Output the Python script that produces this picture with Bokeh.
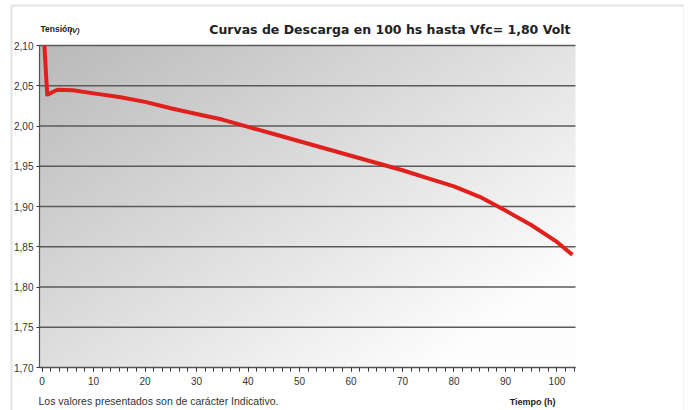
import numpy as np
from bokeh.plotting import figure
from bokeh.models import Label, FixedTicker, CustomJSTickFormatter, Range1d, BoxAnnotation
from bokeh.embed import file_html
from bokeh.resources import INLINE

# ---- data ----
hours = [0.45, 1.0, 3.0, 6.0, 10, 15, 20, 25, 30, 35, 40, 45, 50, 55,
         60, 65, 70, 75, 80, 85, 90, 95, 100, 103]
volts = [2.100, 2.039, 2.045, 2.0445, 2.0405, 2.036, 2.030, 2.022, 2.015,
         2.008, 1.999, 1.990, 1.981, 1.972, 1.963, 1.954, 1.945, 1.935,
         1.925, 1.912, 1.895, 1.877, 1.856, 1.840]
y_ticks = [1.70, 1.75, 1.80, 1.85, 1.90, 1.95, 2.00, 2.05, 2.10]
x_ticks = [0, 10, 20, 30, 40, 50, 60, 70, 80, 90, 100]
title_text = "Curvas de Descarga en 100 hs hasta Vfc= 1,80 Volt"
y_label = "Tensión"
y_unit = "(V)"
x_label = "Tiempo (h)"
footer_text = "Los valores presentados son de carácter Indicativo."

# ---- layout (pixels inside the canvas) ----
W, H = 684, 410
PL, PR, PT, PB = 39, 575, 45, 367          # grey plot area
X0, X1 = -0.5, 103.6                       # data at plot area edges
Y0, Y1 = 1.70, 2.10
sx = (PR - PL) / (X1 - X0)
sy = (PB - PT) / (Y1 - Y0)
x_lo, x_hi = X0 - PL / sx, X1 + (W - PR) / sx
y_lo, y_hi = Y0 - (H - PB) / sy, Y1 + PT / sy

p = figure(width=W, height=H,
           x_range=Range1d(x_lo, x_hi), y_range=Range1d(y_lo, y_hi),
           output_backend="svg", toolbar_location=None,
           min_border_left=0, min_border_right=0,
           min_border_top=0, min_border_bottom=0,
           background_fill_color="white", border_fill_color="white")
p.outline_line_color = None
p.xgrid.visible = False
p.ygrid.visible = False

# gradient background of plot area
nx, ny = 200, 120
img = np.empty((ny, nx), dtype=np.uint32)
view = img.view(dtype=np.uint8).reshape((ny, nx, 4))
u = np.linspace(0, 1, nx)[None, :]
v = np.linspace(0, 1, ny)[:, None]
t = np.clip(u * 0.62 + (1 - v) * 0.55, 0, 1)
g = (186 + (253 - 186) * t).astype(np.uint8)
view[:, :, 0] = g
view[:, :, 1] = g
view[:, :, 2] = g
view[:, :, 3] = 255
bg = p.image_rgba(image=[img], x=X0, y=Y0, dw=X1 - X0, dh=Y1 - Y0)
bg.level = "image"

# horizontal grid lines across the grey area
p.segment(x0=[X0] * len(y_ticks), y0=y_ticks, x1=[X1] * len(y_ticks), y1=y_ticks,
          line_color="#5a5a5a", line_width=1.5)

# curve
p.line(hours, volts, line_color="#e0201c", line_width=4, line_join="round")

# axes
p.yaxis.ticker = FixedTicker(ticks=y_ticks)
p.yaxis.formatter = CustomJSTickFormatter(code="return tick.toFixed(2).replace('.', ',');")
p.yaxis.fixed_location = X0
p.yaxis.bounds = (Y0, Y1)
p.xaxis.ticker = FixedTicker(ticks=x_ticks,
                             minor_ticks=[i * 10 / 6 for i in range(0, 63)])
p.xaxis.fixed_location = Y0
p.xaxis.bounds = (X0, X1)
for ax in (p.xaxis[0], p.yaxis[0]):
    ax.axis_line_color = "#555555"
    ax.axis_line_width = 1.2
    ax.major_tick_line_color = "#333333"
    ax.minor_tick_line_color = "#333333"
    ax.major_label_text_font = "Liberation Sans"
    ax.major_label_text_font_size = "10px"
    ax.major_label_text_color = "#333333"
    ax.minor_tick_in = 0
    ax.major_tick_in = 0
p.xaxis.major_tick_out = 4
p.xaxis.minor_tick_out = 4
p.xaxis.major_label_standoff = 5
p.yaxis.major_tick_out = 3
p.yaxis.minor_tick_out = 0
p.yaxis.major_label_standoff = 3

# outer frame
p.add_layout(BoxAnnotation(left=11, right=684, bottom=-20, top=H - 5,
                           left_units="screen", right_units="screen",
                           top_units="screen", bottom_units="screen",
                           fill_color=None, fill_alpha=0,
                           line_color="#a3a3a3", line_width=2, level="overlay"))

# texts (screen units, y measured up from the bottom)
p.add_layout(Label(x=570, y=H - 29.3, x_units="screen", y_units="screen",
                   text=title_text, text_align="right", text_baseline="alphabetic",
                   text_font="DejaVu Sans", text_font_style="bold",
                   text_font_size="12.5px", text_color="#222222"))
p.add_layout(Label(x=40, y=H - 28.5, x_units="screen", y_units="screen",
                   text=y_label, text_align="left", text_baseline="alphabetic",
                   text_font="Liberation Sans", text_font_style="bold",
                   text_font_size="8.5px", text_color="#222222"))
p.add_layout(Label(x=69, y=H - 30, x_units="screen", y_units="screen",
                   text=y_unit, text_align="left", text_baseline="alphabetic",
                   text_font="Liberation Sans", text_font_style="bold italic",
                   text_font_size="7.5px", text_color="#222222"))
p.add_layout(Label(x=555, y=H - 401, x_units="screen", y_units="screen",
                   text=x_label, text_align="right", text_baseline="alphabetic",
                   text_font="Liberation Sans", text_font_style="bold",
                   text_font_size="9px", text_color="#222222"))
p.add_layout(Label(x=38, y=H - 400, x_units="screen", y_units="screen",
                   text=footer_text, text_align="left", text_baseline="alphabetic",
                   text_font="Liberation Sans", text_font_size="10.5px",
                   text_color="#333333"))

open("out.html", "w").write(file_html(p, INLINE))
